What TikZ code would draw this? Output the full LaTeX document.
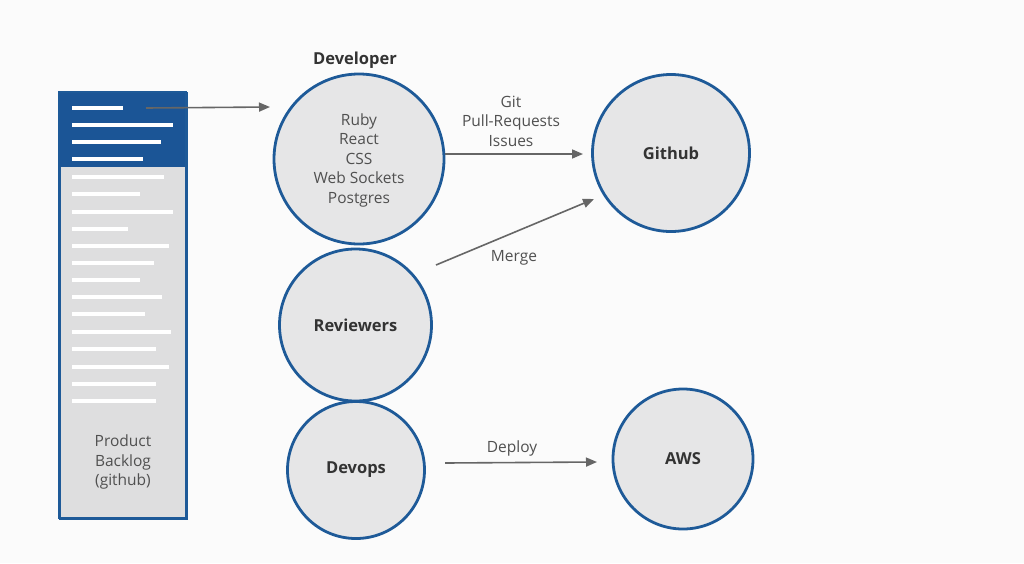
\documentclass[tikz,border=0pt]{standalone}
\usepackage{fontspec}
\setmainfont{Open Sans}
\usetikzlibrary{arrows.meta}
\definecolor{bg}{HTML}{FBFBFB}
\definecolor{cblue}{HTML}{1E5A98}
\definecolor{cdark}{HTML}{1B5596}
\definecolor{cfill}{HTML}{E6E6E7}
\definecolor{cbox}{HTML}{DEDEDF}
\definecolor{ctext}{HTML}{505050}
\definecolor{cbold}{HTML}{333333}
\definecolor{carrow}{HTML}{666666}
\tikzset{
  bubble/.style={circle, draw=cblue, line width=2.8pt, fill=cfill, inner sep=0pt},
  bold/.style={font=\fontsize{16.5}{19}\selectfont\bfseries, text=cbold},
  plain/.style={font=\fontsize{15.5}{19.5}\selectfont, text=ctext, align=center},
  conn/.style={draw=carrow, line width=1.6pt, -{Triangle[length=11pt,width=9pt]}},
  wline/.style={draw=white, line width=3.2pt},
}
\begin{document}
\begin{tikzpicture}[x=1pt,y=-1pt]
\fill[bg] (0,0) rectangle (1024,563);
\useasboundingbox (0,0) rectangle (1024,563);
% backlog
\node[draw=cblue, line width=1.8pt, fill=cbox, minimum width=127pt, minimum height=426pt, inner sep=0pt, anchor=north west] (backlog) at (59,92) {};
\fill[cdark] (59,92) rectangle (186,167);
\draw[cblue, line width=1.8pt] (59,92) rectangle (186,518);
\foreach \y/\x in {108/123,125/173,142/161,159/143,177/164,194/140,212/173,229/128,246/169,263/154,280/140,297/162,314/145,332/171,349/156,367/169,384/156,401/156}
  \draw[wline] (72,\y) -- (\x,\y);
\node[plain] (blabel) at (123,462) {Product\\Backlog\\(github)};
\coordinate (bstart) at (146,108);
% circles
\node[bubble, minimum size=170pt] (dev) at (359,159) {};
\node[plain] (devtext) at (359,160) {Ruby\\React\\CSS\\Web Sockets\\Postgres};
\node[bold] (devlabel) at (355,60) {Developer};
\node[bubble, minimum size=157pt, bold] (github) at (671,153) {Github};
\node[bubble, minimum size=152pt, bold] (rev) at (355.5,325) {Reviewers};
\node[bubble, minimum size=137pt, bold] (devops) at (356,470) {Devops};
\node[bubble, minimum size=140pt, bold] (aws) at (683,459) {AWS};
% connectors
\coordinate (devin) at (270,107);
\draw[conn] (bstart) -- (devin);
\coordinate (g1) at (445,154);
\coordinate (g2) at (583,154);
\draw[conn] (g1) -- (g2);
\node[plain] (gitlabel) at (511,121) {Git\\Pull-Requests\\Issues};
\coordinate (m1) at (436,265);
\coordinate (m2) at (594,199);
\draw[conn] (m1) -- (m2);
\node[plain] (mergelabel) at (514,258) {Merge};
\coordinate (d1) at (445,463);
\coordinate (d2) at (597,462);
\draw[conn] (d1) -- (d2);
\node[plain] (deploylabel) at (512,448) {Deploy};
\end{tikzpicture}
\end{document}
